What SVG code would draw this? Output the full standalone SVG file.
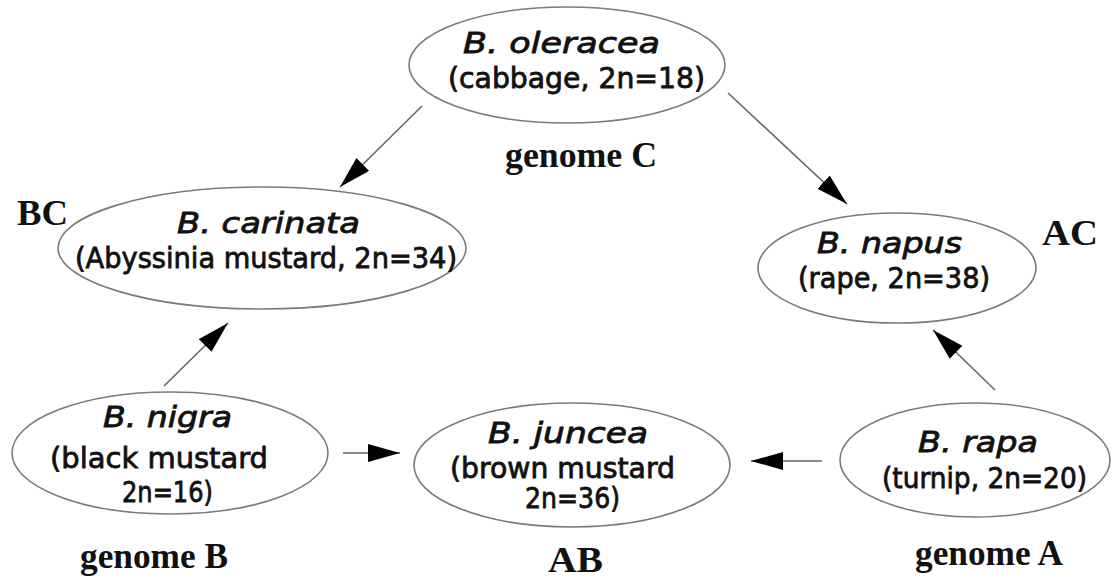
<svg xmlns="http://www.w3.org/2000/svg" width="1113" height="580" viewBox="0 0 1113 580">
<style>
.node ellipse{fill:#fff;stroke:#7a7a7a;stroke-width:1.6}
.sp{font-family:"DejaVu Sans","Liberation Sans",sans-serif;font-size:28px;fill:#111;stroke:#111;stroke-width:0.8}
.it{font-style:italic}
.lab{font-family:"Liberation Serif","Times New Roman",serif;font-weight:bold;font-size:35px;fill:#111}
.edge{stroke:#666;stroke-width:1.6;fill:none;marker-end:url(#ah)}
</style>
<defs>
<marker id="ah" markerUnits="userSpaceOnUse" markerWidth="34" markerHeight="20" refX="32" refY="9" orient="auto">
<path d="M0,0 L32,9 L0,18 Z" fill="#000"/>
</marker>
</defs>
<rect width="1113" height="580" fill="#fff"/>
<g id="connectors">
<line class="edge" x1="422" y1="106" x2="340" y2="187"/>
<line class="edge" x1="728" y1="93" x2="847" y2="204"/>
<line class="edge" x1="164" y1="386" x2="228" y2="323"/>
<line class="edge" x1="343" y1="453" x2="400" y2="453"/>
<line class="edge" x1="822" y1="461" x2="751" y2="461"/>
<line class="edge" x1="995" y1="390" x2="933" y2="330"/>
</g>
<g id="oleracea" class="node">
<ellipse cx="567" cy="65" rx="158" ry="58"/>
<text class="sp it" x="463" y="53" textLength="197" lengthAdjust="spacingAndGlyphs">B. oleracea</text>
<text class="sp" x="448" y="88" textLength="257" lengthAdjust="spacingAndGlyphs">(cabbage, 2n=18)</text>
</g>
<g id="carinata" class="node">
<ellipse cx="262" cy="248" rx="204" ry="61"/>
<text class="sp it" x="177" y="233" textLength="183" lengthAdjust="spacingAndGlyphs">B. carinata</text>
<text class="sp" x="75" y="268" textLength="382" lengthAdjust="spacingAndGlyphs">(Abyssinia mustard, 2n=34)</text>
</g>
<g id="napus" class="node">
<ellipse cx="897" cy="268" rx="139" ry="55"/>
<text class="sp it" x="817" y="253" textLength="145" lengthAdjust="spacingAndGlyphs">B. napus</text>
<text class="sp" x="798" y="288" textLength="192" lengthAdjust="spacingAndGlyphs">(rape, 2n=38)</text>
</g>
<g id="nigra" class="node">
<ellipse cx="170" cy="453" rx="158" ry="61"/>
<text class="sp it" x="103" y="427" textLength="129" lengthAdjust="spacingAndGlyphs">B. nigra</text>
<text class="sp" x="50" y="468" textLength="218" lengthAdjust="spacingAndGlyphs">(black mustard</text>
<text class="sp" x="122" y="502" textLength="91" lengthAdjust="spacingAndGlyphs">2n=16)</text>
</g>
<g id="juncea" class="node">
<ellipse cx="572" cy="465" rx="158" ry="62"/>
<text class="sp it" x="488" y="443" textLength="160" lengthAdjust="spacingAndGlyphs">B. juncea</text>
<text class="sp" x="450" y="478" textLength="225" lengthAdjust="spacingAndGlyphs">(brown mustard</text>
<text class="sp" x="525" y="508" textLength="95" lengthAdjust="spacingAndGlyphs">2n=36)</text>
</g>
<g id="rapa" class="node">
<ellipse cx="975" cy="460" rx="135" ry="57"/>
<text class="sp it" x="918" y="452" textLength="120" lengthAdjust="spacingAndGlyphs">B. rapa</text>
<text class="sp" x="882" y="488" textLength="205" lengthAdjust="spacingAndGlyphs">(turnip, 2n=20)</text>
</g>
<g id="labels">
<text class="lab" x="505" y="167" textLength="152" lengthAdjust="spacingAndGlyphs">genome C</text>
<text class="lab" x="17" y="225" textLength="51" lengthAdjust="spacingAndGlyphs">BC</text>
<text class="lab" x="1042" y="245" textLength="56" lengthAdjust="spacingAndGlyphs">AC</text>
<text class="lab" x="80" y="568" textLength="148" lengthAdjust="spacingAndGlyphs">genome B</text>
<text class="lab" x="548" y="572" textLength="55" lengthAdjust="spacingAndGlyphs">AB</text>
<text class="lab" x="915" y="565" textLength="148" lengthAdjust="spacingAndGlyphs">genome A</text>
</g>
</svg>
